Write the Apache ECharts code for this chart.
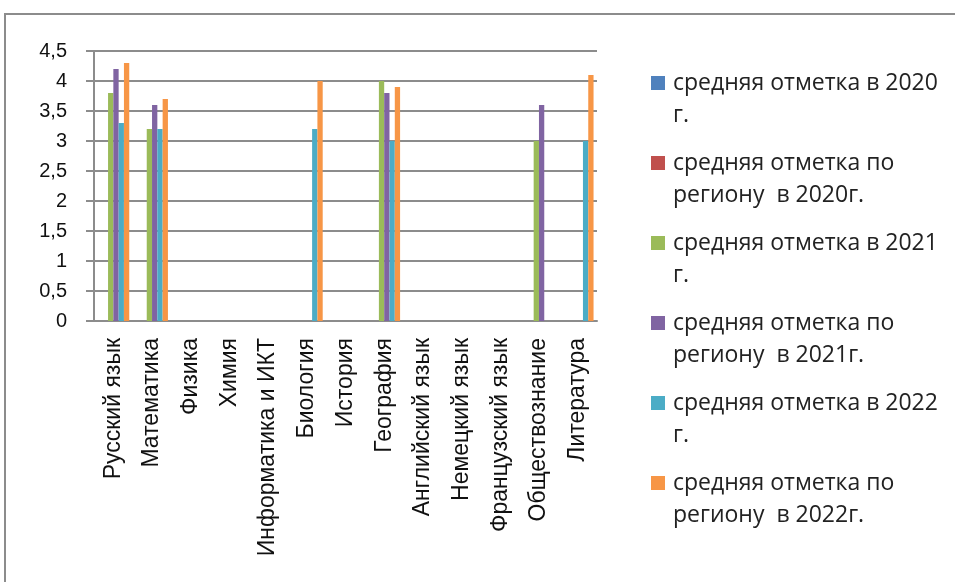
<!DOCTYPE html>
<html>
<head>
<meta charset="utf-8">
<script src="https://cdn.jsdelivr.net/npm/echarts@6/dist/echarts.min.js"></script>
<style>
  html, body { margin: 0; padding: 0; background: #fff; }
  #frame { position: absolute; left: 4px; top: 13px; width: 960px; height: 580px; border: 2px solid #8c8c8c; box-sizing: border-box; }
  #chart { position: absolute; left: 0; top: 0; width: 955px; height: 582px; }
</style>
</head>
<body>
<div id="frame"></div>
<div id="chart"></div>
<script>
const subjects = ['Русский язык', 'Математика', 'Физика', 'Химия', 'Информатика и ИКТ', 'Биология', 'История', 'География', 'Английский язык', 'Немецкий язык', 'Французский язык', 'Обществознание', 'Литература']

const seriesNames = [
  'средняя отметка в 2020 г.',
  'средняя отметка по региону  в 2020г.',
  'средняя отметка в 2021 г.',
  'средняя отметка по региону  в 2021г.',
  'средняя отметка в 2022 г.',
  'средняя отметка по региону  в 2022г.',
]

const school2020 = [0, 0, null, null, null, null, null, null, null, null, null, null, null]
const region2020 = [0, 0, null, null, null, null, null, null, null, null, null, null, null]
const school2021 = [3.8, 3.2, null, null, null, null, null, 4.0, null, null, null, 3.0, null]
const region2021 = [4.2, 3.6, null, null, null, null, null, 3.8, null, null, null, 3.6, null]
const school2022 = [3.3, 3.2, null, null, null, 3.2, null, 3.0, null, null, null, null, 3.0]
const region2022 = [4.3, 3.7, null, null, null, 4.0, null, 3.9, null, null, null, null, 4.1]

const yTicks = ['0', '0,5', '1', '1,5', '2', '2,5', '3', '3,5', '4', '4,5']

const colors = ['#4F81BD', '#C0504D', '#9BBB59', '#8064A2', '#4BACC6', '#F79646']
const values = [school2020, region2020, school2021, region2021, school2022, region2022]

const labelFont = '"Liberation Sans", Arial, sans-serif'
const legendFont = '"Open Sans", "Noto Sans", sans-serif'

const option = {
  animation: false,
  color: colors,
  grid: { left: 94, right: 358, top: 51, bottom: 261 },
  legend: {
    orient: 'vertical',
    left: 646,
    top: 30,
    height: 545,
    itemWidth: 14,
    itemHeight: 14,
    itemGap: -16,
    icon: 'rect',
    // blank first line keeps the icon level with the first text line
    formatter: (name) => '\n' + name.replace(' г.', '\nг.').replace('по ', 'по\n'),
    textStyle: {
      fontFamily: legendFont,
      fontSize: 23,
      color: '#222',
      lineHeight: 32,
      padding: [0, 0, 0, 3],
    },
  },
  xAxis: {
    type: 'category',
    data: subjects,
    axisLine: { lineStyle: { color: '#8c8c8c', width: 2 } },
    axisTick: { length: 8, lineStyle: { color: '#8c8c8c', width: 2 } },
    axisLabel: { rotate: 90, interval: 0, color: '#111', fontFamily: labelFont, fontSize: 23, margin: 17 },
  },
  yAxis: {
    type: 'value',
    min: 0,
    max: 4.5,
    interval: 0.5,
    axisLine: { show: true, lineStyle: { color: '#8c8c8c', width: 2 } },
    axisTick: { show: true, length: 8, lineStyle: { color: '#8c8c8c', width: 2 } },
    axisLabel: {
      color: '#111', fontFamily: labelFont, fontSize: 20, margin: 27,
      formatter: (v) => yTicks[Math.round(v * 2)],
    },
    splitLine: { lineStyle: { color: '#8c8c8c', width: 2 } },
  },
  series: seriesNames.map((name, i) => ({
    name,
    type: 'bar',
    data: values[i],
    barWidth: 5.3,
    barGap: '0%',
    itemStyle: { color: colors[i] },
  })),
}

const chart = echarts.init(document.getElementById('chart'))
chart.setOption(option)
window.addEventListener('resize', () => chart && chart.resize())
</script>
</body>
</html>
